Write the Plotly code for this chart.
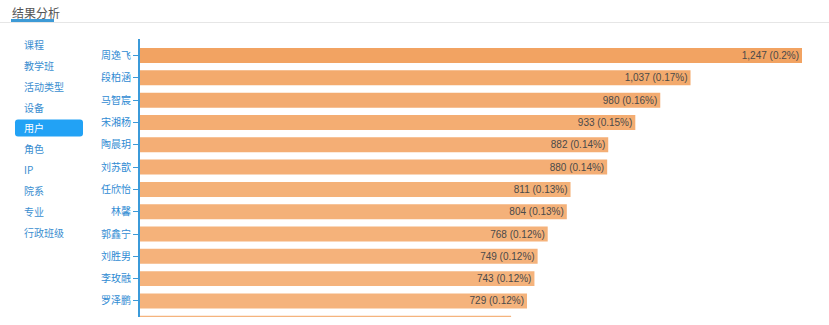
import plotly.graph_objects as go

# ---- data ----
names = ["周逸飞", "段柏涵", "马智宸", "宋湘杨", "陶晨玥", "刘苏歆", "任欣怡",
         "林馨", "郭鑫宁", "刘胜男", "李玫融", "罗泽鹏", "王子涵"]
values = [1247, 1037, 980, 933, 882, 880, 811, 804, 768, 749, 743, 729, 699]
percents = ["0.2", "0.17", "0.16", "0.15", "0.14", "0.14", "0.13", "0.13",
            "0.12", "0.12", "0.12", "0.12", "0.11"]
menu_items = ["课程", "教学班", "活动类型", "设备", "用户", "角色", "IP", "院系", "专业", "行政班级"]
active_menu = "用户"
title_text = "结果分析"
visible_count = 12  # bars whose labels are visible in the scroll window

# ---- layout geometry (pixels) ----
W, H = 829, 325
L, R, T, B = 140, 14, 39, 8
PW, PH = W - L - R, H - T - B


def px_x(px):
    return (px - L) / PW


def px_y(py):
    return 1 - (py - T) / PH


# colour gradient by value (slightly darker for larger)
vmax, vmin = max(values), min(values)
c_hi, c_lo = (242, 163, 98), (245, 180, 126)
colors = []
for v in values:
    t = (vmax - v) / (vmax - vmin)
    c = tuple(round(c_hi[i] + (c_lo[i] - c_hi[i]) * t) for i in range(3))
    colors.append(f"rgb{c}")

labels = [f"{v:,} ({p}%)" if i < visible_count else ""
          for i, (v, p) in enumerate(zip(values, percents))]

fig = go.Figure(go.Bar(
    x=values, y=names, orientation="h",
    marker=dict(color=colors, line=dict(width=0)),
    text=labels, textposition="inside", insidetextanchor="end",
    textfont=dict(family="Liberation Sans, Arial", size=10, color="#4a4a4a"),
    constraintext="none", hoverinfo="skip", cliponaxis=True,
))

xmax = vmax * PW / (803 - 141)
fig.update_xaxes(range=[0, xmax], visible=False, fixedrange=True)
fig.update_yaxes(
    type="category", categoryorder="array", categoryarray=names,
    range=[11.72, -0.74],
    showline=True, linecolor="#3b9ad9", linewidth=2,
    ticks="outside", ticklen=5, tickwidth=1, tickcolor="#3b9ad9",
    tickfont=dict(family="Noto Sans CJK SC", size=10, color="#2f8bd3"),
    showgrid=False, zeroline=False,
)

shapes = []
annotations = []

# title + underline + separator
annotations.append(dict(
    text=title_text, xref="paper", yref="paper", x=px_x(10), y=px_y(12.5),
    xanchor="left", yanchor="middle", showarrow=False,
    font=dict(family="Noto Sans CJK SC", size=12, color="#555555"),
))
shapes.append(dict(type="line", xref="paper", yref="paper",
                   x0=px_x(0), x1=px_x(W), y0=px_y(22.5), y1=px_y(22.5),
                   line=dict(color="#e6e6e6", width=1)))
shapes.append(dict(type="rect", xref="paper", yref="paper",
                   x0=px_x(11), x1=px_x(54), y0=px_y(19), y1=px_y(22),
                   fillcolor="#3d9ad6", line=dict(width=0)))


def conv(tok):
    if "," in tok:
        a, b = tok.split(",")
        return f"{px_x(float(a)):.5f},{px_y(float(b)):.5f}"
    return tok


# left menu
menu_y0, menu_step = 44.3, 20.9
for i, item in enumerate(menu_items):
    cy = menu_y0 + i * menu_step
    active = item == active_menu
    if active:
        x0, x1, y0, y1, r = 15, 83, cy - 8.5, cy + 8.5, 3
        path = (f"M {x0 + r},{y0} L {x1 - r},{y0} Q {x1},{y0} {x1},{y0 + r} "
                f"L {x1},{y1 - r} Q {x1},{y1} {x1 - r},{y1} L {x0 + r},{y1} "
                f"Q {x0},{y1} {x0},{y1 - r} L {x0},{y0 + r} Q {x0},{y0} {x0 + r},{y0} Z")
        path = " ".join(conv(t) for t in path.split(" "))
        shapes.append(dict(type="path", xref="paper", yref="paper", path=path,
                           fillcolor="#22a2f5", line=dict(width=0)))
    annotations.append(dict(
        text=item, xref="paper", yref="paper", x=px_x(22), y=px_y(cy),
        xanchor="left", yanchor="middle", showarrow=False,
        font=dict(family="Noto Sans CJK SC", size=10,
                  color="#ffffff" if active else "#3b8ed0"),
    ))

fig.update_layout(
    width=W, height=H,
    margin=dict(l=L, r=R, t=T, b=B, pad=0),
    paper_bgcolor="white", plot_bgcolor="white",
    bargap=0.328, showlegend=False,
    shapes=shapes, annotations=annotations,
    font=dict(family="Noto Sans CJK SC"),
)

fig.write_html("out.html", config={"displayModeBar": False})
